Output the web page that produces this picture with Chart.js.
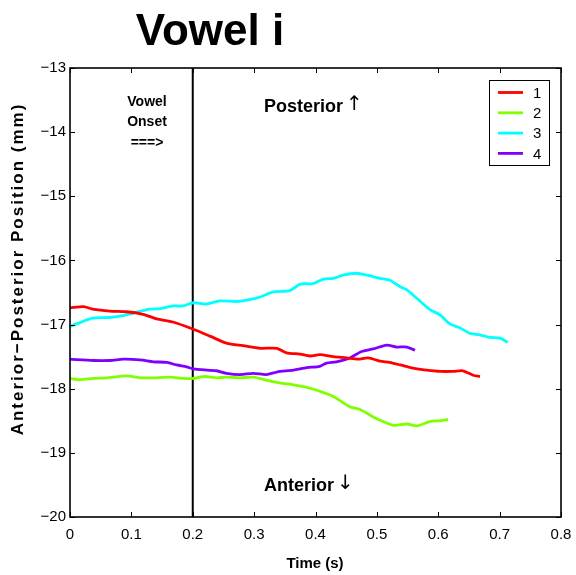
<!DOCTYPE html>
<html>
<head>
<meta charset="utf-8">
<script src="https://cdn.jsdelivr.net/npm/chart.js@4/dist/chart.umd.min.js"></script>
<style>
  html, body { margin: 0; padding: 0; background: #ffffff; }
  #wrap { width: 576px; height: 575px; }
</style>
</head>
<body>
<div id="wrap"><canvas id="c" width="576" height="575"></canvas></div>
<script>
// ---------- data ----------
const seriesLabels = ['1', '2', '3', '4'];
const seriesColors = ['#ff0000', '#7fff00', '#00ffff', '#7f00ff'];

const s1Time = [0,0.022,0.037,0.065,0.092,0.119,0.141,0.168,0.2,0.228,0.255,0.282,0.31,0.337,0.353,0.375,0.391,0.407,0.429,0.451,0.469,0.486,0.505,0.521,0.538,0.559,0.581,0.603,0.624,0.64,0.657,0.668];
const s1Pos  = [-16.74,-16.72,-16.76,-16.79,-16.8,-16.84,-16.91,-16.96,-17.07,-17.18,-17.29,-17.33,-17.37,-17.37,-17.44,-17.46,-17.49,-17.47,-17.5,-17.52,-17.54,-17.52,-17.57,-17.59,-17.63,-17.68,-17.71,-17.73,-17.73,-17.72,-17.79,-17.81];

const s2Time = [0,0.016,0.038,0.06,0.092,0.114,0.136,0.163,0.185,0.201,0.217,0.239,0.255,0.277,0.299,0.321,0.342,0.364,0.386,0.407,0.429,0.456,0.472,0.494,0.51,0.527,0.549,0.565,0.587,0.603,0.616];
const s2Pos  = [-17.84,-17.86,-17.84,-17.83,-17.8,-17.83,-17.83,-17.82,-17.84,-17.84,-17.81,-17.83,-17.82,-17.83,-17.82,-17.87,-17.91,-17.94,-17.98,-18.04,-18.12,-18.28,-18.32,-18.44,-18.51,-18.57,-18.55,-18.58,-18.51,-18.5,-18.48];

const s3Time = [0,0.016,0.037,0.065,0.081,0.103,0.13,0.147,0.168,0.184,0.201,0.222,0.244,0.271,0.288,0.31,0.331,0.358,0.375,0.396,0.413,0.429,0.445,0.467,0.484,0.505,0.521,0.538,0.549,0.565,0.587,0.603,0.619,0.635,0.652,0.668,0.684,0.701,0.713];
const s3Pos  = [-17.03,-16.97,-16.9,-16.89,-16.87,-16.82,-16.76,-16.75,-16.71,-16.71,-16.66,-16.68,-16.63,-16.64,-16.62,-16.57,-16.49,-16.47,-16.37,-16.36,-16.29,-16.28,-16.23,-16.2,-16.23,-16.28,-16.31,-16.41,-16.46,-16.59,-16.77,-16.85,-16.99,-17.05,-17.14,-17.16,-17.2,-17.21,-17.28];

const s4Time = [0,0.038,0.065,0.087,0.114,0.136,0.158,0.174,0.19,0.201,0.223,0.239,0.255,0.277,0.299,0.32,0.337,0.364,0.386,0.407,0.418,0.434,0.456,0.475,0.494,0.516,0.532,0.549,0.562];
const s4Pos  = [-17.54,-17.56,-17.56,-17.54,-17.55,-17.58,-17.59,-17.63,-17.66,-17.69,-17.71,-17.72,-17.76,-17.78,-17.76,-17.78,-17.74,-17.71,-17.67,-17.65,-17.6,-17.58,-17.52,-17.42,-17.38,-17.32,-17.35,-17.35,-17.4];

const onsetTime = [0.2, 0.2];
const onsetPos  = [-20, -13];

const xTicks = [0, 0.1, 0.2, 0.3, 0.4, 0.5, 0.6, 0.7, 0.8];
const xTickLabels = ['0', '0.1', '0.2', '0.3', '0.4', '0.5', '0.6', '0.7', '0.8'];
const yTicks = [-20, -19, -18, -17, -16, -15, -14, -13];
const yTickLabels = ['\u221220', '\u221219', '\u221218', '\u221217', '\u221216', '\u221215', '\u221214', '\u221213'];

const titleText = 'Vowel i';
const xTitle = 'Time (s)';
const yTitle = 'Anterior\u2212Posterior Position (mm)';
const onsetText = ['Vowel', 'Onset', '===>'];
const posteriorWord = 'Posterior';
const anteriorWord = 'Anterior';
const upArrow = '\u2191';
const downArrow = '\u2193';

// ---------- build ----------
const FONT = "'Liberation Sans', Arial, Helvetica, sans-serif";
function pts(xs, ys) { return xs.map((x, i) => ({ x: x, y: ys[i] })); }
const seriesData = [pts(s1Time, s1Pos), pts(s2Time, s2Pos), pts(s3Time, s3Pos), pts(s4Time, s4Pos)];

const datasets = seriesData.map((d, i) => ({
  label: seriesLabels[i],
  data: d,
  borderColor: seriesColors[i],
  backgroundColor: seriesColors[i],
  borderWidth: 2.8,
  pointRadius: 0,
  tension: 0.25,
  fill: false
}));
datasets.push({
  label: 'onset',
  data: pts(onsetTime, onsetPos),
  borderColor: '#000000',
  borderWidth: 2,
  pointRadius: 0,
  tension: 0,
  fill: false
});

function lookup(vals, labels, v) {
  for (let i = 0; i < vals.length; i++) if (Math.abs(vals[i] - v) < 1e-6) return labels[i];
  return '';
}

const decorPlugin = {
  id: 'decor',
  afterDraw(chart) {
    const ctx = chart.ctx;
    const a = chart.chartArea;
    const xs = chart.scales.x, ys = chart.scales.y;
    ctx.save();
    // frame
    ctx.strokeStyle = '#000';
    ctx.lineWidth = 1.6;
    ctx.strokeRect(a.left, a.top, a.right - a.left, a.bottom - a.top);
    // inward ticks
    ctx.lineWidth = 1;
    const tl = 5;
    xTicks.forEach(v => {
      const px = Math.round(xs.getPixelForValue(v)) + 0.5;
      ctx.beginPath();
      ctx.moveTo(px, a.bottom); ctx.lineTo(px, a.bottom - tl);
      ctx.moveTo(px, a.top); ctx.lineTo(px, a.top + tl);
      ctx.stroke();
    });
    yTicks.forEach(v => {
      const py = Math.round(ys.getPixelForValue(v)) + 0.5;
      ctx.beginPath();
      ctx.moveTo(a.left, py); ctx.lineTo(a.left + tl, py);
      ctx.moveTo(a.right, py); ctx.lineTo(a.right - tl, py);
      ctx.stroke();
    });
    // title
    ctx.fillStyle = '#000';
    ctx.textAlign = 'center';
    ctx.textBaseline = 'middle';
    ctx.font = 'bold 44px ' + FONT;
    ctx.fillText(titleText, 210, 33);
    // axis titles
    ctx.font = 'bold 15px ' + FONT;
    ctx.fillText(xTitle, 315, 564);
    ctx.save();
    ctx.translate(18, 269);
    ctx.rotate(-Math.PI / 2);
    ctx.font = 'bold 17px ' + FONT;
    ctx.letterSpacing = '2px';
    ctx.fillText(yTitle, 0, 0);
    ctx.restore();
    // onset annotation
    ctx.font = 'bold 14px ' + FONT;
    ctx.fillText(onsetText[0], 147, 102);
    ctx.fillText(onsetText[1], 147, 122);
    ctx.fillText(onsetText[2], 147, 143);
    // posterior / anterior
    ctx.font = 'bold 18px ' + FONT;
    ctx.textAlign = 'left';
    ctx.fillText(posteriorWord, 264, 107);
    ctx.fillText(anteriorWord, 264, 486);
    const pw = ctx.measureText(posteriorWord).width;
    const aw = ctx.measureText(anteriorWord).width;
    ctx.font = '20px "DejaVu Sans", sans-serif';
    ctx.fillText(upArrow, 264 + pw + 3, 105);
    ctx.fillText(downArrow, 264 + aw + 3, 484);
    // legend
    const lx = 489, ly = 80, lw = 60, lh = 85;
    ctx.fillStyle = '#fff';
    ctx.fillRect(lx, ly, lw, lh);
    ctx.strokeStyle = '#000';
    ctx.lineWidth = 1;
    ctx.strokeRect(lx + 0.5, ly + 0.5, lw, lh);
    ctx.font = '15px ' + FONT;
    ctx.fillStyle = '#000';
    ctx.textAlign = 'left';
    seriesLabels.forEach((lab, i) => {
      const yy = 92.5 + i * 20.3;
      ctx.strokeStyle = seriesColors[i];
      ctx.lineWidth = 2.8;
      ctx.beginPath();
      ctx.moveTo(498, yy); ctx.lineTo(523, yy);
      ctx.stroke();
      ctx.fillText(lab, 533, yy + 1);
    });
    ctx.restore();
  }
};

new Chart(document.getElementById('c'), {
  type: 'line',
  data: { datasets: datasets },
  options: {
    responsive: false,
    animation: false,
    devicePixelRatio: 1,
    layout: { padding: { top: 68, right: 15, bottom: 0, left: 0 } },
    plugins: { legend: { display: false }, tooltip: { enabled: false }, title: { display: false } },
    scales: {
      x: {
        type: 'linear',
        min: 0, max: 0.8,
        afterBuildTicks: s => { s.ticks = xTicks.map(v => ({ value: v })); },
        afterFit: s => { s.height = 58; s.paddingLeft = 0; s.paddingRight = 0; },
        grid: { display: false, drawTicks: false },
        border: { display: false },
        ticks: {
          color: '#000',
          padding: 9,
          maxRotation: 0,
          autoSkip: false,
          font: { family: FONT, size: 15 },
          callback: v => lookup(xTicks, xTickLabels, v)
        }
      },
      y: {
        type: 'linear',
        min: -20, max: -13,
        afterBuildTicks: s => { s.ticks = yTicks.map(v => ({ value: v })); },
        afterFit: s => { s.width = 70; s.paddingTop = 0; s.paddingBottom = 0; },
        grid: { display: false, drawTicks: false },
        border: { display: false },
        ticks: {
          color: '#000',
          padding: 4,
          autoSkip: false,
          font: { family: FONT, size: 15 },
          callback: v => lookup(yTicks, yTickLabels, v)
        }
      }
    }
  },
  plugins: [decorPlugin]
});
</script>
</body>
</html>
